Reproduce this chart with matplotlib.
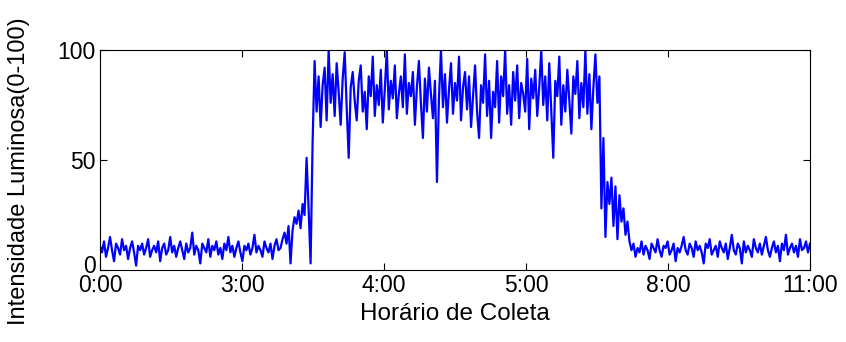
import numpy as np
import matplotlib
matplotlib.use("Agg")
import matplotlib.pyplot as plt
import matplotlib.transforms as mtransforms

plt.rcParams['font.family'] = ['Liberation Sans', 'DejaVu Sans']

# leituras estimadas a partir da figura (intensidade 0-100)
noite_inicio = [
    11, 8, 13, 6, 10, 15, 9, 4, 12, 10,
    7, 14, 9, 11, 5, 10, 13, 8, 2, 11,
    9, 12, 7, 10, 14, 6, 9, 11, 8, 13,
    4, 10, 12, 7, 9, 15, 8, 11, 6, 10,
    13, 9, 5, 12, 8, 10, 17, 7, 11, 9,
    3, 12, 10, 8, 14, 6, 11, 9, 13, 7,
    10, 5, 12, 9, 15, 8, 11, 6, 10, 13,
    8, 4, 11, 9, 12, 7, 10, 16, 8, 11,
    9, 6, 13, 10, 8, 12, 5, 11, 14, 9,
]
amanhecer = [10, 14, 17, 12, 20, 3, 18, 24, 21, 27, 19, 30, 25, 51, 28, 3, 58]
dia = [
    95, 72, 88, 65, 84, 92, 68, 100, 76, 89,
    70, 94, 81, 66, 87, 99, 74, 51, 83, 90,
    77, 68, 86, 93, 72, 81, 64, 88, 79, 97,
    70, 84, 75, 91, 67, 82, 100, 73, 86, 78,
    93, 69, 80, 88, 74, 98, 71, 85, 79, 90,
    66, 83, 95, 76, 60, 87, 72, 92, 80, 69,
    86, 40, 78, 100, 74, 89, 67, 82, 94, 71,
    85, 77, 97, 68, 83, 90, 73, 88, 65, 79,
    93, 72, 60, 84, 76, 98, 70, 86, 60, 81,
    74, 95, 67, 88, 79, 100, 71, 84, 66, 90,
    77, 93, 69, 85, 80, 72, 96, 64, 87, 78,
    91, 70, 83, 100, 75, 88, 68, 94, 73, 51,
    86, 79, 97, 66, 84, 72, 91, 77, 62, 88,
    80, 95, 69, 85, 74, 100, 71, 89, 64, 83,
    98, 76,
]
anoitecer = [88, 28, 60, 15, 40, 30, 42, 20, 38, 14, 34, 22, 28, 16, 22, 13]
noite_fim = [
    9, 12, 6, 10, 8, 13, 7, 11, 9, 5,
    12, 10, 8, 14, 9, 6, 11, 10, 13, 7,
    9, 12, 4, 10, 8, 11, 15, 9, 7, 12,
    10, 6, 13, 9, 11, 8, 3, 12, 10, 14,
    7, 9, 11, 6, 13, 10, 8, 12, 5, 10,
    16, 9, 7, 12, 10, 3, 13, 8, 11, 9,
    6, 14, 10, 8, 12, 7, 11, 15, 9, 6,
    10, 13, 8, 11, 4, 12, 9, 16, 7, 10,
    12, 8, 11, 6, 14, 9, 10, 13, 8, 12,
]
horarios = ['0:00', '3:00', '4:00', '5:00', '8:00', '11:00']

intensidade = np.array(noite_inicio + amanhecer + dia + anoitecer + noite_fim)
amostras = np.arange(len(intensidade))

fig = plt.figure(figsize=(8.46, 3.42), dpi=100)
ax = fig.add_axes([100 / 846, 72 / 342, 710 / 846, 220 / 342])

ax.plot(amostras, intensidade, color='#0000ff', linewidth=1.6)

ax.set_xlim(0, len(intensidade) - 1)
ax.set_ylim(0, 100)
ax.set_xticks(np.linspace(0, len(intensidade) - 1, len(horarios)))
ax.set_xticklabels(horarios)
ax.set_yticks([0, 50, 100])

ax.tick_params(direction='in', length=5, width=0.8, labelsize=16.5,
               top=True, right=True, pad=3)
for s in ax.spines.values():
    s.set_linewidth(0.8)

ax.set_xlabel('Horário de Coleta', fontsize=17.5, labelpad=4)
ax.set_ylabel('Intensidade Luminosa(0-100)', fontsize=17)
ax.yaxis.set_label_coords(-0.099, 0.45)

# o "0" do eixo y fica um pouco acima, como no original
fig.canvas.draw()
rotulo_zero = ax.yaxis.get_major_ticks()[0].label1
rotulo_zero.set_transform(rotulo_zero.get_transform() +
                          mtransforms.ScaledTranslation(0, 4 / 72, fig.dpi_scale_trans))

fig.savefig('out.png', dpi=100)
